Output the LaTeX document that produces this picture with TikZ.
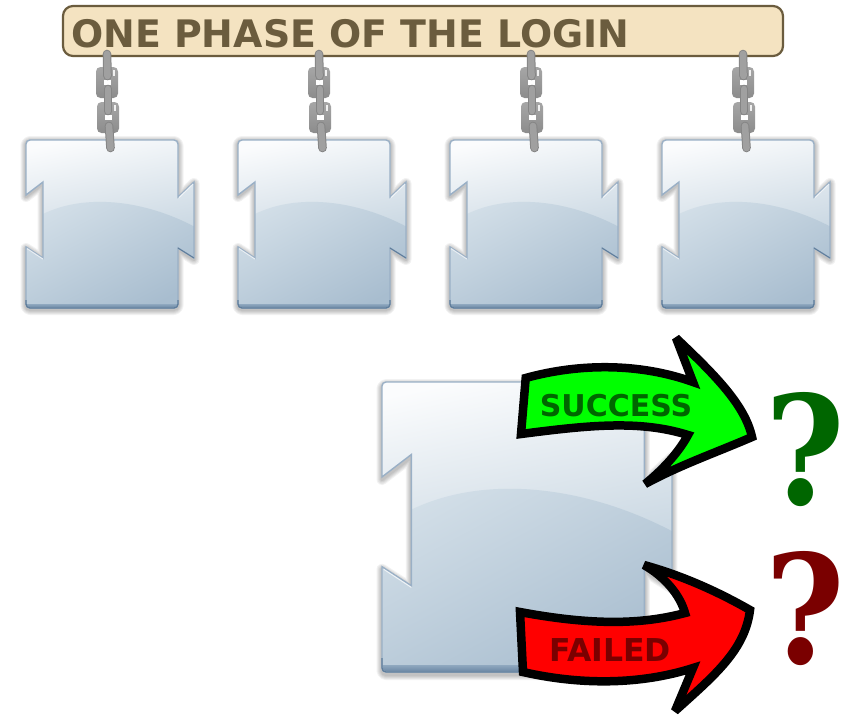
\documentclass[tikz,border=0pt]{standalone}
\usepackage{graphicx}
\usepackage{fontspec}
\setmainfont{DejaVu Sans}
\newfontfamily\qfont{DejaVu Serif}
\definecolor{bannerfill}{HTML}{F4E3C1}
\definecolor{bannerink}{HTML}{6B5C3E}
\definecolor{chainc}{HTML}{A0A0A0}
\definecolor{chainl}{HTML}{A6A6A6}
\definecolor{chaind}{HTML}{8C8C8C}
\definecolor{chaine}{HTML}{858585}
\definecolor{okdark}{HTML}{006600}
\definecolor{baddark}{HTML}{7A0000}
\definecolor{pieceedge}{HTML}{9AB0C6}
\definecolor{pieceedgeb}{HTML}{5F7D9B}
\definecolor{upperb}{HTML}{C9D7E2}
\definecolor{lowert}{HTML}{D3DFE8}
\definecolor{lowerb}{HTML}{A8BDCF}
\definecolor{bandt}{HTML}{8FA8BF}
\definecolor{topc}{HTML}{FBFCFD}
\newcommand{\pieceoutline}{
  (0,5) [rounded corners=4pt] -- (0,0) -- (152,0) [sharp corners] -- (152,57) -- (168,42) -- (168,118) -- (152,108) [rounded corners=4pt] -- (152,168) -- (0,168) [sharp corners] -- (0,107) -- (17,118) -- (17,42) -- (0,55) -- cycle}
\tikzset{
  pics/piece/.style={code={
    \foreach \w in {11,9,7,5,3}{
      \draw[black,opacity=0.05,line width=\w pt,line join=round] [yshift=-1.5pt] \pieceoutline;
    }
    \begin{scope}
      \clip \pieceoutline;
      \shade[top color=topc,bottom color=upperb,shading angle=12] (-2,-2) rectangle (171,100);
      \shade[top color=lowert,bottom color=lowerb,shading angle=28] (-2,86) .. controls (40,52) and (110,55) .. (171,88) -- (171,170) -- (-2,170) -- cycle;
      \shade[top color=bandt,bottom color=pieceedgeb] (-2,164) rectangle (171,169);
    \end{scope}
    \draw[pieceedge,line width=1.4pt,line join=miter] \pieceoutline;
    \draw[pieceedgeb,line width=1.3pt] (0,160) [rounded corners=4pt] -- (0,168) -- (152,168) [sharp corners] -- (152,160);
    \draw[pieceedgeb,line width=1pt] (168,118) -- (152,108);
    \draw[white,opacity=.7,line width=1pt] (1,108.5) -- (17,119);
    \draw[white,opacity=.7,line width=1pt] (153,57.5) -- (167,44);
  }},
  chainstrand/.style={line cap=round,
    preaction={draw=chaine,line width=8.6pt,line cap=round},
    draw=chainc,line width=6.6pt},
  pics/chain/.style={code={
    \foreach \xx/\yy in {0/14,1/49}{
      \begin{scope}[shift={(\xx,\yy)}]
        \shade[top color=chainl,bottom color=chaind,rounded corners=4.5pt] (-11,0) rectangle (11,31);
        \draw[white,line width=1.6pt,opacity=.85] (7,3) -- (7,9);
        \fill[white] (-3.5,13) rectangle (4,18);
      \end{scope}
    }
    \path[chainstrand] (0,1) -- (0.5,23);
    \path[chainstrand] (1,36) -- (1,58);
    \path[chainstrand] (2,73) -- (3.5,95);
  }},
  bigarrow/.style={draw=black,line width=8.5pt,line join=miter,miter limit=3},
  arrowlabel/.style={font=\bfseries\fontsize{30}{30}\selectfont,anchor=center,inner sep=0pt},
  qmark/.style={font=\qfont\bfseries\fontsize{151}{151}\selectfont,anchor=center,inner sep=0pt},
}
\begin{document}
\begin{tikzpicture}[x=1pt,y=-1pt]
\useasboundingbox (0,0) rectangle (842,716);
\clip (0,0) rectangle (842,716);
\fill[white] (0,0) rectangle (842,716);

\foreach \px in {26,238,450,662}{ \pic at (\px,140) {piece}; }
\pic[scale=1.726] at (382,382) {piece};

\draw[bannerink,fill=bannerfill,line width=2.2pt,rounded corners=10pt] (63,6) rectangle (783,56);
\node[anchor=west,inner sep=0pt,text=bannerink,font=\bfseries\fontsize{37.9}{38}\selectfont] (title) at (71,33.5) {ONE PHASE OF THE LOGIN};

\foreach \cx in {107,319,531,743}{ \pic at (\cx,53) {chain}; }

\draw[bigarrow,fill=green] (521,434) -- (525.7,378) .. controls (580,363) and (640,363) .. (693,382)
  -- (676,338) .. controls (715,375) and (745,405) .. (752,437)
  .. controls (715,453) and (680,465) .. (645,484)
  .. controls (665,468) and (680,450) .. (688,435)
  .. controls (640,420) and (590,425) .. (521,434) -- cycle;
\node[arrowlabel,text=okdark] (success) at (616,406) {SUCCESS};

\draw[bigarrow,fill=red] (523,672) -- (520,612) .. controls (590,625) and (640,625) .. (685,613)
  .. controls (680,595) and (665,577) .. (644,565)
  .. controls (680,575) and (715,590) .. (750,610)
  .. controls (745,650) and (715,675) .. (675,711)
  -- (693,668) .. controls (640,685) and (580,685) .. (523,672) -- cycle;
\node[arrowlabel,font=\bfseries\fontsize{31.5}{32}\selectfont,text=baddark] (failed) at (610,650) {FAILED};

\node[qmark,text=okdark] (q1) at (805,450) {\scalebox{.9}[1]{?}};
\node[qmark,text=baddark] (q2) at (805,608.5) {\scalebox{.9}[1]{?}};
\end{tikzpicture}
\end{document}
